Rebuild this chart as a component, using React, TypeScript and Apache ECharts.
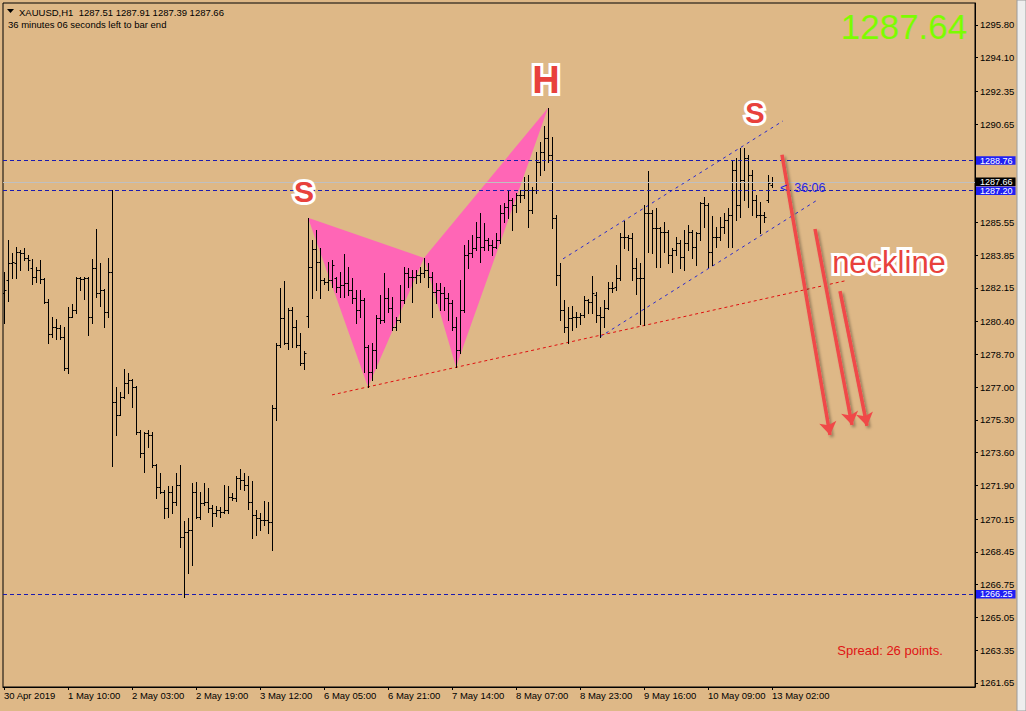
import React, { useEffect, useRef } from "react";
import * as echarts from "echarts";

const FONT = "'Liberation Sans', Arial, sans-serif";
const BG = "#DEB887";

// x-axis tick labels (bar index -> label)
const tickIdx = [0, 16, 32, 48, 64, 80, 96, 112, 128, 144, 160, 176, 192];
const tickLabels = [
  "30 Apr 2019", "1 May 10:00", "2 May 03:00", "2 May 19:00", "3 May 12:00",
  "6 May 05:00", "6 May 21:00", "7 May 14:00", "8 May 07:00", "8 May 23:00",
  "9 May 16:00", "10 May 09:00", "13 May 02:00",
];
const priceTicks = [
  1295.8, 1294.1, 1292.35, 1290.65, 1288.95, 1287.25, 1285.55, 1283.85, 1282.15,
  1280.4, 1278.7, 1277.0, 1275.3, 1273.6, 1271.9, 1270.15, 1268.45, 1266.75,
  1265.05, 1263.35, 1261.65,
];
// labels that are not covered by the price boxes
const priceLabels = [
  1295.8, 1294.1, 1292.35, 1290.65, 1285.55, 1283.85, 1282.15,
  1280.4, 1278.7, 1277.0, 1275.3, 1273.6, 1271.9, 1270.15, 1268.45, 1266.75,
  1265.05, 1263.35, 1261.65,
];

const opens = [
  1281.89, 1282.57, 1283.45, 1283.45, 1284.02, 1283.97, 1283.71, 1283.19, 1282.72, 1283.09,
  1282.62, 1281.43, 1279.77, 1280.13, 1280.08, 1279.61, 1278.0, 1280.65, 1281.01, 1282.67,
  1282.62, 1282.67, 1280.65, 1283.19, 1281.89, 1282.05, 1280.91, 1282.98, 1276.24, 1275.56,
  1276.5, 1277.22, 1277.38, 1277.01, 1274.68, 1273.59, 1274.63, 1274.52, 1272.97, 1271.82,
  1271.57, 1270.73, 1271.57, 1271.05, 1271.93, 1269.23, 1269.49, 1269.59, 1271.57, 1270.27,
  1270.99, 1271.05, 1270.73, 1270.48, 1270.63, 1270.53, 1270.63, 1271.31, 1271.25, 1272.29,
  1272.19, 1271.93, 1271.05, 1270.37, 1270.22, 1270.11, 1270.11, 1270.01, 1275.92, 1279.19,
  1280.6, 1279.3, 1281.01, 1280.13, 1279.19, 1278.26, 1280.7, 1283.24, 1284.18, 1283.5,
  1282.57, 1282.46, 1282.57, 1282.67, 1282.2, 1282.31, 1282.41, 1282.05, 1281.63, 1281.01,
  1281.53, 1279.09, 1277.79, 1278.93, 1280.6, 1280.49, 1281.63, 1281.11, 1280.13, 1280.49,
  1281.53, 1282.93, 1282.72, 1282.72, 1282.83, 1282.93, 1283.09, 1282.72, 1281.95, 1282.05,
  1281.89, 1281.63, 1281.37, 1280.13, 1278.93, 1281.01, 1283.87, 1283.97, 1284.23, 1284.8,
  1284.28, 1284.64, 1284.38, 1284.28, 1284.64, 1286.05, 1286.36, 1286.72, 1286.46, 1286.98,
  1286.98, 1287.24, 1286.2, 1287.24, 1288.69, 1289.21, 1289.94, 1289.06, 1285.79, 1282.83,
  1281.01, 1280.13, 1280.6, 1280.65, 1280.65, 1280.75, 1281.53, 1281.43, 1281.79, 1280.75,
  1280.65, 1281.11, 1282.15, 1282.2, 1282.67, 1284.8, 1284.8, 1284.75, 1283.19, 1282.67,
  1282.67, 1286.05, 1286.05, 1285.27, 1285.27, 1285.06, 1285.06, 1283.87, 1284.12, 1284.49,
  1283.76, 1284.49, 1285.06, 1284.28, 1285.01, 1286.56, 1286.46, 1284.02, 1284.8, 1284.8,
  1285.32, 1285.68, 1285.94, 1288.28, 1286.46, 1287.76, 1288.9, 1288.02, 1286.72, 1285.94,
  1285.94, 1286.72, 1287.51,
];
const highs = [
  1282.98, 1284.64, 1283.97, 1284.28, 1284.12, 1284.23, 1283.87, 1283.66, 1283.24, 1283.61,
  1282.67, 1281.58, 1280.65, 1280.54, 1280.23, 1280.13, 1281.17, 1281.32, 1282.72, 1282.72,
  1282.72, 1282.72, 1283.66, 1285.21, 1283.45, 1282.1, 1283.71, 1287.24, 1277.01, 1276.76,
  1277.95, 1277.74, 1277.43, 1277.07, 1274.78, 1274.68, 1274.78, 1274.68, 1273.02, 1272.55,
  1271.67, 1271.88, 1271.88, 1272.55, 1272.97, 1270.06, 1270.22, 1272.03, 1272.08, 1271.57,
  1272.03, 1271.77, 1270.89, 1270.84, 1270.79, 1271.93, 1271.88, 1271.51, 1272.4, 1272.76,
  1272.55, 1272.4, 1272.14, 1270.63, 1270.48, 1271.1, 1271.05, 1276.08, 1279.3, 1282.15,
  1282.52, 1281.11, 1281.17, 1280.49, 1279.82, 1278.88, 1285.79, 1284.64, 1285.16, 1284.23,
  1282.67, 1283.5, 1283.61, 1282.72, 1282.98, 1283.92, 1283.24, 1282.67, 1282.05, 1282.05,
  1281.63, 1279.19, 1279.3, 1280.75, 1281.79, 1282.93, 1282.15, 1281.69, 1280.65, 1282.31,
  1283.24, 1283.19, 1283.09, 1283.09, 1283.24, 1283.71, 1283.45, 1282.98, 1282.41, 1282.41,
  1282.2, 1281.89, 1281.53, 1280.65, 1282.57, 1284.38, 1284.64, 1284.9, 1285.58, 1286.05,
  1285.53, 1284.75, 1284.64, 1285.01, 1286.46, 1286.56, 1287.24, 1286.82, 1287.08, 1287.24,
  1287.91, 1288.02, 1287.39, 1289.21, 1289.73, 1290.56, 1291.49, 1289.99, 1285.94, 1283.45,
  1281.53, 1281.17, 1281.22, 1280.91, 1280.86, 1281.74, 1281.58, 1282.78, 1281.95, 1281.17,
  1281.53, 1282.46, 1282.46, 1283.35, 1285.01, 1285.63, 1284.9, 1285.01, 1283.71, 1283.45,
  1286.46, 1288.23, 1286.2, 1286.3, 1285.32, 1285.58, 1285.16, 1284.23, 1284.8, 1284.64,
  1285.16, 1285.42, 1285.16, 1285.06, 1286.62, 1286.88, 1286.56, 1285.89, 1285.32, 1285.84,
  1286.05, 1286.3, 1288.8, 1288.9, 1289.42, 1289.42, 1289.06, 1288.28, 1286.98, 1286.62,
  1286.1, 1288.02, 1287.91,
];
const lows = [
  1280.34, 1281.48, 1282.67, 1282.67, 1283.09, 1283.61, 1283.09, 1282.36, 1282.46, 1282.41,
  1281.37, 1279.3, 1279.61, 1279.51, 1279.51, 1277.9, 1277.74, 1280.65, 1280.86, 1282.05,
  1281.58, 1279.71, 1280.34, 1281.69, 1281.22, 1280.13, 1280.65, 1272.91, 1274.52, 1275.56,
  1276.44, 1276.7, 1275.98, 1274.58, 1273.38, 1272.6, 1273.9, 1272.86, 1271.25, 1271.51,
  1270.22, 1270.27, 1270.48, 1270.89, 1268.71, 1266.12, 1267.36, 1267.78, 1270.22, 1270.16,
  1270.89, 1270.53, 1269.8, 1270.32, 1270.27, 1270.48, 1270.48, 1271.15, 1271.1, 1271.72,
  1271.67, 1270.68, 1269.18, 1269.33, 1269.59, 1269.85, 1269.44, 1268.55, 1275.3, 1279.09,
  1279.25, 1278.99, 1279.09, 1279.09, 1278.16, 1277.95, 1280.13, 1281.63, 1282.05, 1281.63,
  1282.36, 1282.05, 1282.2, 1281.95, 1281.69, 1281.69, 1281.79, 1281.37, 1280.34, 1280.65,
  1277.79, 1277.01, 1277.38, 1278.0, 1280.34, 1280.39, 1280.91, 1279.97, 1279.97, 1280.39,
  1281.37, 1282.2, 1281.43, 1282.41, 1282.46, 1282.72, 1282.2, 1280.65, 1281.37, 1281.01,
  1281.01, 1280.49, 1279.97, 1278.05, 1278.78, 1280.91, 1283.19, 1283.76, 1284.12, 1283.5,
  1284.12, 1284.12, 1283.87, 1284.23, 1284.49, 1285.58, 1285.79, 1285.16, 1286.1, 1286.62,
  1286.82, 1285.32, 1286.05, 1287.08, 1288.02, 1288.28, 1288.69, 1285.27, 1282.31, 1280.49,
  1279.87, 1279.3, 1279.97, 1280.13, 1280.28, 1280.65, 1280.86, 1280.86, 1280.39, 1279.61,
  1280.13, 1281.06, 1281.95, 1282.05, 1282.57, 1284.23, 1284.12, 1282.57, 1281.84, 1280.28,
  1280.23, 1284.02, 1283.97, 1283.24, 1283.24, 1284.02, 1283.45, 1282.98, 1283.87, 1283.19,
  1283.09, 1284.12, 1283.71, 1283.35, 1284.64, 1285.32, 1283.24, 1283.35, 1284.28, 1284.64,
  1285.01, 1284.28, 1284.28, 1285.68, 1285.84, 1286.72, 1286.36, 1285.94, 1285.84, 1285.01,
  1285.58, 1286.62, 1287.39,
];
const closes = [
  1282.05, 1283.45, 1283.5, 1284.02, 1283.97, 1283.71, 1283.61, 1282.72, 1283.09, 1282.62,
  1281.43, 1279.77, 1280.13, 1280.08, 1279.61, 1278.0, 1280.65, 1281.01, 1282.67, 1282.62,
  1282.67, 1280.65, 1283.19, 1281.89, 1282.05, 1280.91, 1282.98, 1276.24, 1275.56, 1276.5,
  1277.22, 1277.38, 1277.01, 1274.68, 1273.59, 1274.63, 1274.52, 1272.97, 1271.82, 1271.57,
  1270.73, 1271.57, 1271.05, 1271.93, 1269.23, 1269.49, 1269.59, 1271.57, 1270.27, 1270.99,
  1271.05, 1270.73, 1270.48, 1270.63, 1270.53, 1270.63, 1271.31, 1271.25, 1272.29, 1272.19,
  1271.93, 1271.05, 1270.37, 1270.22, 1270.11, 1270.11, 1270.01, 1275.92, 1279.19, 1280.6,
  1279.3, 1281.01, 1280.13, 1279.19, 1278.26, 1278.78, 1283.24, 1284.18, 1283.5, 1282.57,
  1282.46, 1282.57, 1283.35, 1282.2, 1282.31, 1282.41, 1282.05, 1281.63, 1281.01, 1281.53,
  1279.09, 1277.79, 1278.93, 1280.6, 1280.49, 1281.63, 1281.11, 1280.13, 1280.49, 1281.53,
  1282.93, 1282.72, 1282.72, 1282.83, 1282.93, 1283.09, 1282.72, 1281.95, 1282.05, 1281.89,
  1281.63, 1281.37, 1280.13, 1278.93, 1281.01, 1283.87, 1283.97, 1284.23, 1284.8, 1284.28,
  1284.64, 1284.38, 1284.28, 1284.64, 1286.05, 1286.36, 1286.72, 1286.46, 1286.98, 1286.98,
  1287.24, 1286.2, 1287.24, 1288.69, 1289.21, 1289.94, 1289.06, 1285.79, 1282.83, 1281.01,
  1280.13, 1280.6, 1280.65, 1280.65, 1280.75, 1281.53, 1281.43, 1281.89, 1280.75, 1280.65,
  1281.11, 1282.15, 1282.15, 1282.67, 1284.8, 1284.8, 1284.75, 1283.19, 1282.67, 1282.67,
  1286.05, 1286.05, 1285.27, 1285.27, 1285.06, 1285.06, 1283.87, 1284.12, 1284.49, 1283.76,
  1284.49, 1285.06, 1284.28, 1285.01, 1286.56, 1286.46, 1284.02, 1284.8, 1284.8, 1285.32,
  1285.68, 1285.94, 1288.28, 1286.46, 1287.76, 1288.9, 1288.02, 1286.72, 1285.94, 1285.94,
  1285.84, 1287.6, 1287.66,
];

// Harmonic (butterfly) pattern vertices: X, A, B, C, D
const patternIdx = [76, 91, 105, 113, 136];
const patternPrice = [1285.79, 1277.01, 1283.71, 1278.05, 1291.49];
const patternTriangles = [[0, 1, 2], [2, 3, 4]];

// trend lines
const necklineX = [82, 210.25];
const necklineY = [1276.6, 1282.52];
const channelUpX = [139.75, 194.75];
const channelUpY = [1283.66, 1290.82];
const channelLoX = [149, 203.75];
const channelLoY = [1279.61, 1286.77];

// arrows [x1, y1, x2, y2]
const arrows = [
  [194.5, 1289.06, 206.5, 1274.52],
  [202.75, 1285.21, 212, 1275.04],
  [209, 1281.99, 215.75, 1274.99],
];

const levelLines = [1288.76, 1287.2, 1266.25];
const bidPrice = 1287.66;

function outlined(text: string, x: number, y: number, size: number, weight: string) {
  const base = {
    text,
    fontSize: size,
    fontFamily: FONT,
    fontWeight: weight,
    align: "center",
    verticalAlign: "middle",
    textAlign: "center",
    textVerticalAlign: "middle",
  };
  return [
    {
      type: "text",
      x,
      y,
      z: 100,
      silent: true,
      style: {
        ...base,
        fill: "#ffffff",
        stroke: "#ffffff",
        lineWidth: 6,
        shadowBlur: 4,
        shadowColor: "rgba(0,0,0,0.45)",
        shadowOffsetX: 2,
        shadowOffsetY: 2,
      },
    },
    {
      type: "text",
      x,
      y,
      z: 101,
      silent: true,
      style: { ...base, fill: "#e8413c" },
    },
  ];
}

export default function App() {
  const ref = useRef<HTMLDivElement>(null);
  useEffect(() => {
    const chart = echarts.init(ref.current as HTMLDivElement, null, { renderer: "svg" });
    const ohlc = opens.map((o, i) => [i, o, highs[i], lows[i], closes[i]]);

    const markData: any[] = [
      {
        yAxis: bidPrice,
        lineStyle: { color: "#c0c0c0", type: "solid", width: 1 },
        label: { backgroundColor: "#000000" },
      },
      ...levelLines.map((v) => ({
        yAxis: v,
        lineStyle: { color: "#1a1ab0", type: [4, 3], width: 1 },
        label: { backgroundColor: "#1f1ff5" },
      })),
    ];

    const option: any = {
      animation: false,
      backgroundColor: BG,
      grid: {
        left: 3,
        top: 3,
        right: 51,
        bottom: 24,
        show: true,
        borderColor: "#000",
        borderWidth: 1,
        backgroundColor: "transparent",
      },
      xAxis: {
        type: "value",
        min: -0.25,
        max: 242.75,
        axisLine: { show: true, onZero: false, lineStyle: { color: "#000" } },
        axisTick: { show: true, customValues: tickIdx, length: 3, lineStyle: { color: "#000" } },
        axisLabel: {
          customValues: tickIdx,
          formatter: (v: number) => {
            const k = tickIdx.indexOf(Math.round(v));
            return k >= 0 ? tickLabels[k] : "";
          },
          align: "left",
          margin: 3,
          fontSize: 9.5,
          fontFamily: FONT,
          color: "#000",
        },
        splitLine: { show: false },
      },
      yAxis: {
        type: "value",
        position: "right",
        min: 1261.44,
        max: 1296.94,
        axisLine: { show: true, onZero: false, lineStyle: { color: "#000" } },
        axisTick: { show: true, customValues: priceTicks, length: 3, lineStyle: { color: "#000" } },
        axisLabel: {
          customValues: priceLabels,
          formatter: (v: number) => v.toFixed(2),
          margin: 5,
          fontSize: 9.5,
          fontFamily: FONT,
          color: "#000",
        },
        splitLine: { show: false },
      },
      series: [
        {
          type: "custom",
          name: "pattern",
          silent: true,
          z: 1,
          data: patternTriangles,
          renderItem: (params: any, api: any) => {
            const ids = [api.value(0), api.value(1), api.value(2)];
            const points = ids.map((k: number) => api.coord([patternIdx[k], patternPrice[k]]));
            return { type: "polygon", shape: { points }, style: { fill: "#ff66b6" } };
          },
        },
        {
          type: "line",
          name: "neckline",
          silent: true,
          z: 3,
          showSymbol: false,
          symbol: "none",
          data: necklineX.map((x, i) => [x, necklineY[i]]),
          lineStyle: { color: "#e01010", width: 1, type: [3, 3] },
        },
        {
          type: "line",
          name: "channelUp",
          silent: true,
          z: 3,
          showSymbol: false,
          symbol: "none",
          data: channelUpX.map((x, i) => [x, channelUpY[i]]),
          lineStyle: { color: "#2a2acc", width: 1, type: [3, 4] },
        },
        {
          type: "line",
          name: "channelLo",
          silent: true,
          z: 3,
          showSymbol: false,
          symbol: "none",
          data: channelLoX.map((x, i) => [x, channelLoY[i]]),
          lineStyle: { color: "#2a2acc", width: 1, type: [3, 4] },
        },
        {
          type: "custom",
          name: "XAUUSD",
          silent: true,
          z: 4,
          clip: true,
          data: ohlc,
          encode: { x: 0, y: [1, 2, 3, 4] },
          renderItem: (params: any, api: any) => {
            const i = api.value(0);
            const pO = api.coord([i, api.value(1)]);
            const pH = api.coord([i, api.value(2)]);
            const pL = api.coord([i, api.value(3)]);
            const pC = api.coord([i, api.value(4)]);
            const x = Math.round(pH[0]) + 0.5;
            const yo = Math.round(pO[1]) + 0.5;
            const yc = Math.round(pC[1]) + 0.5;
            const st = { stroke: "#000", lineWidth: 1 };
            return {
              type: "group",
              children: [
                { type: "line", shape: { x1: x, y1: Math.round(pH[1]), x2: x, y2: Math.round(pL[1]) + 1 }, style: st },
                { type: "line", shape: { x1: x - 2, y1: yo, x2: x, y2: yo }, style: st },
                { type: "line", shape: { x1: x, y1: yc, x2: x + 2, y2: yc }, style: st },
              ],
            };
          },
          markLine: {
            silent: true,
            symbol: ["none", "none"],
            animation: false,
            label: {
              show: true,
              position: "end",
              distance: 1,
              formatter: (p: any) => Number(p.value).toFixed(2),
              color: "#ffffff",
              fontSize: 9,
              lineHeight: 8.5,
              fontFamily: FONT,
              padding: [0, 3, 0, 4],
            },
            data: markData,
          },
        },
        {
          type: "lines",
          name: "arrows",
          coordinateSystem: "cartesian2d",
          silent: true,
          z: 6,
          symbol: ["none", "arrow"],
          symbolSize: 13,
          data: arrows.map((a) => ({ coords: [[a[0], a[1]], [a[2], a[3]]] })),
          lineStyle: {
            color: "#f04848",
            width: 3.5,
            opacity: 1,
            curveness: 0,
            shadowBlur: 3,
            shadowColor: "rgba(0,0,0,0.35)",
            shadowOffsetX: 2,
            shadowOffsetY: 2,
          },
        },
      ],
      graphic: [
        {
          type: "rect",
          silent: true,
          z: 50,
          shape: { x: 1017, y: 0, width: 9, height: 711 },
          style: { fill: "#eeeeee", stroke: "#9a9a9a", lineWidth: 1 },
        },
        {
          type: "polygon",
          silent: true,
          z: 50,
          shape: { points: [[7, 9], [14, 9], [10.5, 13]] },
          style: { fill: "#000" },
        },
        {
          type: "text",
          x: 19,
          y: 12,
          z: 50,
          silent: true,
          style: {
            text: "XAUUSD,H1  1287.51 1287.91 1287.39 1287.66",
            fontSize: 9.5,
            fontFamily: FONT,
            fill: "#000",
            verticalAlign: "middle",
            textVerticalAlign: "middle",
          },
        },
        {
          type: "text",
          x: 8,
          y: 24,
          z: 50,
          silent: true,
          style: {
            text: "36 minutes 06 seconds left to bar end",
            fontSize: 9.5,
            fontFamily: FONT,
            fill: "#000",
            verticalAlign: "middle",
            textVerticalAlign: "middle",
          },
        },
        {
          type: "text",
          x: 904,
          y: 26,
          z: 50,
          silent: true,
          style: {
            text: "1287.64",
            fontSize: 35,
            fontFamily: FONT,
            fill: "#7CFC00",
            align: "center",
            verticalAlign: "middle",
            textAlign: "center",
            textVerticalAlign: "middle",
          },
        },
        {
          type: "text",
          x: 890,
          y: 650,
          z: 50,
          silent: true,
          style: {
            text: "Spread: 26 points.",
            fontSize: 13,
            fontFamily: FONT,
            fill: "#e01414",
            align: "center",
            verticalAlign: "middle",
            textAlign: "center",
            textVerticalAlign: "middle",
          },
        },
        {
          type: "text",
          x: 780,
          y: 188,
          z: 50,
          silent: true,
          style: {
            text: "<  36:06",
            fontSize: 12.5,
            fontFamily: FONT,
            fill: "#2424e8",
            verticalAlign: "middle",
            textVerticalAlign: "middle",
          },
        },
        ...outlined("S", 304, 191, 30, "bold"),
        ...outlined("H", 546, 80, 38, "bold"),
        ...outlined("S", 755, 113, 29, "bold"),
        ...outlined("neckline", 889, 262, 31, "normal"),
      ],
    };
    chart.setOption(option);
    return () => chart.dispose();
  }, []);
  return (
    <div
      ref={ref}
      style={{ position: "fixed", left: 0, top: 0, width: 1026, height: 711, background: BG }}
    />
  );
}
